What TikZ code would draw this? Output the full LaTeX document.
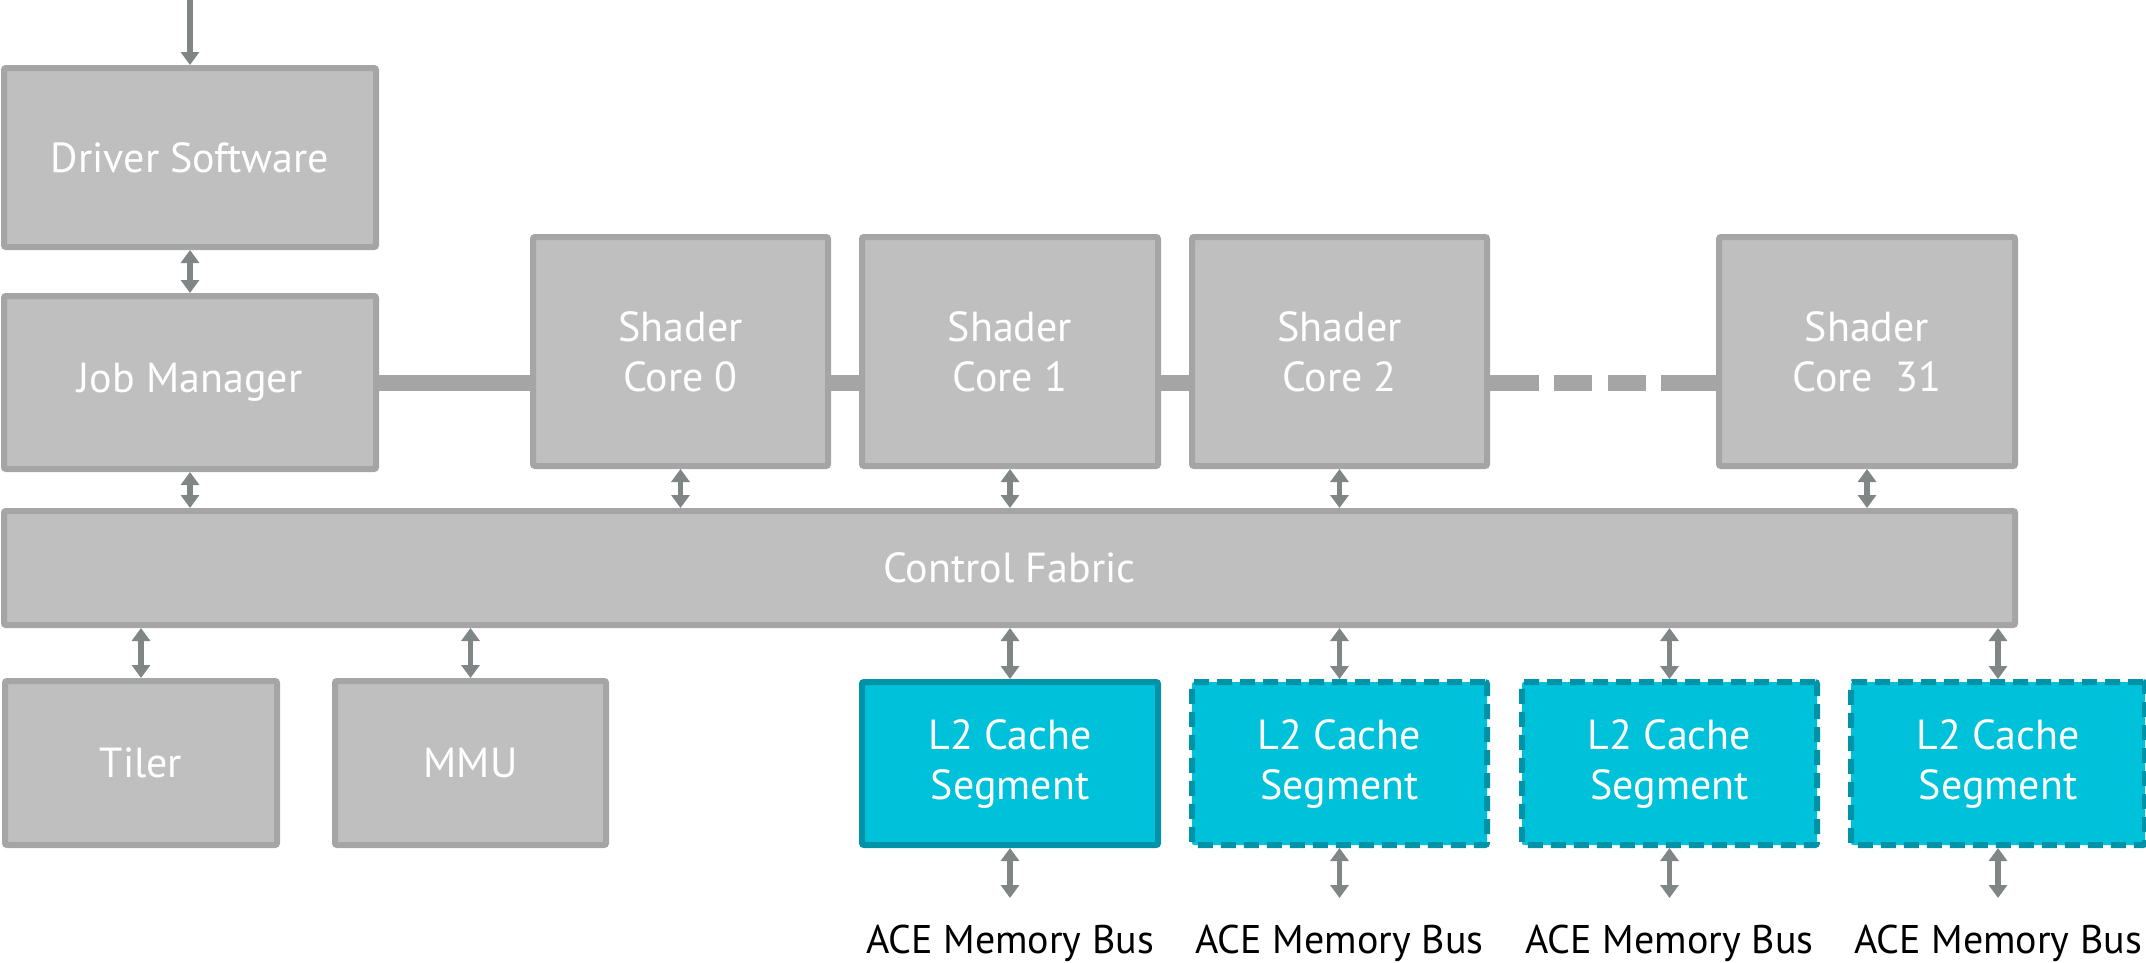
\documentclass[tikz,border=0pt]{standalone}
\usepackage{fontspec}
\setmainfont{PT Sans}
\usetikzlibrary{arrows.meta,backgrounds}
\definecolor{boxfill}{RGB}{191,191,191}
\definecolor{boxline}{RGB}{165,165,165}
\definecolor{arr}{RGB}{128,134,133}
\definecolor{cfill}{RGB}{0,193,218}
\definecolor{cline}{RGB}{0,147,168}
\begin{document}
\begin{tikzpicture}[x=1pt,y=-1pt,
  blk/.style={draw=boxline, fill=boxfill, line width=6pt, rounded corners=2pt,
    text=white, font=\fontsize{42}{50}\selectfont, align=center, inner sep=0pt},
  l2box/.style={blk, draw=cline, fill=cfill},
  l2dash/.style={l2box, dash pattern=on 15pt off 8pt},
  link/.style={draw=arr, line width=5.5pt,
    {Triangle[width=18pt,length=13pt]}-{Triangle[width=18pt,length=13pt]}},
  inlink/.style={draw=arr, line width=5.5pt, -{Triangle[width=18pt,length=13pt]}},
  bus/.style={draw=boxline, line width=16pt},
  acelbl/.style={font=\fontsize{40}{46}\selectfont, text=black, inner sep=0pt, anchor=base}
]
\useasboundingbox (0,0) rectangle (2146,962);

\node[blk, minimum width=372pt, minimum height=179pt] (drv) at (190,157.5) {Driver Software};
\node[blk, minimum width=372pt, minimum height=173pt] (job) at (190,382.5) {Job Manager};
\node[blk, minimum width=295pt, minimum height=229pt] (sc0) at (680.5,351.5) {Shader\\Core 0};
\node[blk, minimum width=296pt, minimum height=229pt] (sc1) at (1010,351.5) {Shader\\Core 1};
\node[blk, minimum width=295pt, minimum height=229pt] (sc2) at (1339.5,351.5) {Shader\\Core 2};
\node[blk, minimum width=296pt, minimum height=229pt] (sc31) at (1867,351.5) {Shader\\Core~~31};

\node[blk, minimum width=2011pt, minimum height=114pt] (fab) at (1009.5,568) {Control Fabric};
\node[blk, minimum width=272pt, minimum height=164pt] (tiler) at (141,763) {Tiler};
\node[blk, minimum width=271pt, minimum height=164pt] (mmu) at (470.5,763) {MMU};

\node[l2box, minimum width=296pt, minimum height=163pt] (l2a) at (1010,763.5) {L2 Cache\\Segment};
\node[l2dash, minimum width=295pt, minimum height=163pt] (l2b) at (1339.5,763.5) {L2 Cache\\Segment};
\node[l2dash, minimum width=295pt, minimum height=163pt] (l2c) at (1669.5,763.5) {L2 Cache\\Segment};
\node[l2dash, minimum width=294pt, minimum height=163pt] (l2d) at (1998,763.5) {L2 Cache\\Segment};

\node[acelbl] (acea) at (1010,953) {ACE Memory Bus};
\node[acelbl] (aceb) at (1339.5,953) {ACE Memory Bus};
\node[acelbl] (acec) at (1669.5,953) {ACE Memory Bus};
\node[acelbl] (aced) at (1998,953) {ACE Memory Bus};

\coordinate (topin) at (190,0);
\coordinate (ba) at (1010,898);
\coordinate (bb) at (1339.5,898);
\coordinate (bc) at (1669.5,898);
\coordinate (bd) at (1998,898);

% bus bars behind the boxes
\begin{scope}[on background layer]
\draw[bus] (job.east) -- (job.east -| sc0.west);
\draw[bus] (sc0.east |- job.east) -- (sc1.west |- job.east);
\draw[bus] (sc1.east |- job.east) -- (sc2.west |- job.east);
\draw[bus, dash pattern=on 49pt off 15pt on 38pt off 16pt on 38pt off 15pt on 90pt]
  (sc2.east |- job.east) -- (sc31.west |- job.east);
\end{scope}

% connectors
\draw[inlink] (topin) -- (drv.north);
\draw[link] (drv.south) -- (job.north);
\draw[link] (job.south) -- (job.south |- fab.north);
\draw[link] (sc0.south) -- (sc0.south |- fab.north);
\draw[link] (sc1.south) -- (sc1.south |- fab.north);
\draw[link] (sc2.south) -- (sc2.south |- fab.north);
\draw[link] (sc31.south) -- (sc31.south |- fab.north);
\draw[link] (tiler.north |- fab.south) -- (tiler.north);
\draw[link] (mmu.north |- fab.south) -- (mmu.north);
\draw[link] (l2a.north |- fab.south) -- (l2a.north);
\draw[link] (l2b.north |- fab.south) -- (l2b.north);
\draw[link] (l2c.north |- fab.south) -- (l2c.north);
\draw[link] (l2d.north |- fab.south) -- (l2d.north);
\draw[link] (l2a.south) -- (ba);
\draw[link] (l2b.south) -- (bb);
\draw[link] (l2c.south) -- (bc);
\draw[link] (l2d.south) -- (bd);
\end{tikzpicture}
\end{document}
